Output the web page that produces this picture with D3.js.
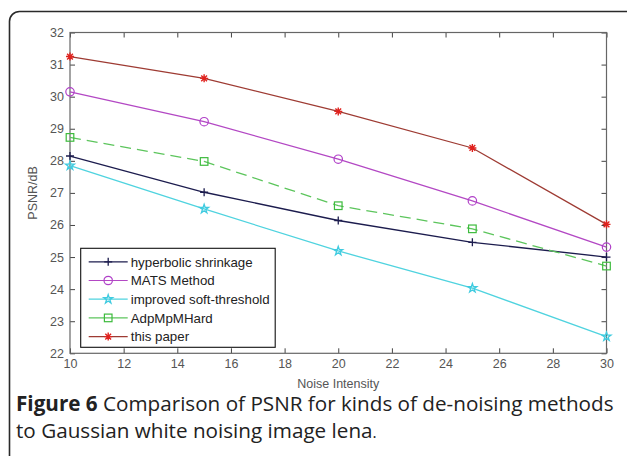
<!DOCTYPE html>
<html><head><meta charset="utf-8">
<script src="https://cdn.jsdelivr.net/npm/d3@7"></script>
<style>
html,body{margin:0;padding:0;background:#fff;}
svg{display:block;}
</style></head>
<body>
<svg id="chart" width="627" height="456"></svg>
<script>
// ---- data ----
const noise = [10, 15, 20, 25, 30];
const hyperbolic = [28.15, 27.02, 26.14, 25.46, 25.0];
const mats = [30.15, 29.22, 28.05, 26.75, 25.31];
const improvedSoft = [27.85, 26.5, 25.19, 24.03, 22.52];
const adpMpMHard = [28.73, 27.98, 26.6, 25.88, 24.72];
const thisPaper = [31.25, 30.57, 29.54, 28.4, 26.02];
const seriesNames = ["hyperbolic shrinkage", "MATS Method", "improved soft-threshold", "AdpMpMHard", "this paper"];
const xTicks = [10, 12, 14, 16, 18, 20, 22, 24, 26, 28, 30];
const yTicks = [22, 23, 24, 25, 26, 27, 28, 29, 30, 31, 32];

const series = [
  {name: seriesNames[0], values: hyperbolic, color: "#1c1c4e", mcolor: "#1c1c4e", marker: "plus", dash: null},
  {name: seriesNames[1], values: mats, color: "#b348c4", mcolor: "#b040c8", marker: "circle", dash: null},
  {name: seriesNames[2], values: improvedSoft, color: "#4fd3df", mcolor: "#3fcbe0", marker: "pentagram", dash: null},
  {name: seriesNames[3], values: adpMpMHard, color: "#5cc55c", mcolor: "#3dbb3d", marker: "square", dash: "11,6"},
  {name: seriesNames[4], values: thisPaper, color: "#9e3b33", mcolor: "#e0221e", marker: "asterisk", dash: null}
];

const svg = d3.select("#chart");
const L = 70, R = 606.5, T = 32.5, B = 353.3;
const x = d3.scaleLinear().domain([10, 30]).range([L, R]);
const y = d3.scaleLinear().domain([22, 32]).range([B, T]);

// outer frame
svg.append("rect").attr("x", 9.5).attr("y", 11.5).attr("width", 700).attr("height", 600)
  .attr("rx", 10).attr("fill", "#fff").attr("stroke", "#2a2a2a").attr("stroke-width", 1.6);

const tickFont = "Liberation Sans, Arial, sans-serif";
function styleAxis(g) {
  g.select(".domain").remove();
  g.selectAll(".tick line").attr("stroke", "#444").attr("stroke-width", 1);
  g.selectAll(".tick text").attr("fill", "#555").style("font-family", tickFont).style("font-size", "12.5px");
}

svg.append("g").attr("transform", `translate(0,${B})`)
  .call(d3.axisBottom(x).tickValues(xTicks).tickSizeInner(-5).tickSizeOuter(0).tickPadding(6))
  .call(styleAxis);
svg.append("g").attr("transform", `translate(0,${T})`)
  .call(d3.axisTop(x).tickValues(xTicks).tickSizeInner(-5).tickSizeOuter(0).tickFormat(""))
  .call(styleAxis);
svg.append("g").attr("transform", `translate(${L},0)`)
  .call(d3.axisLeft(y).tickValues(yTicks).tickSizeInner(-5).tickSizeOuter(0).tickPadding(6))
  .call(styleAxis);
svg.append("g").attr("transform", `translate(${R},0)`)
  .call(d3.axisRight(y).tickValues(yTicks).tickSizeInner(-5).tickSizeOuter(0).tickFormat(""))
  .call(styleAxis);

svg.append("rect").attr("x", L).attr("y", T).attr("width", R - L).attr("height", B - T)
  .attr("fill", "none").attr("stroke", "#666").attr("stroke-width", 1.2);

// axis labels
svg.append("text").attr("x", (L + R) / 2).attr("y", 387.5).attr("text-anchor", "middle")
  .attr("fill", "#555").style("font-family", tickFont).style("font-size", "12.5px").text("Noise Intensity");
svg.append("text").attr("transform", `translate(37,${(T + B) / 2}) rotate(-90)`).attr("text-anchor", "middle")
  .attr("fill", "#555").style("font-family", tickFont).style("font-size", "12.5px").text("PSNR/dB");

// markers
function drawMarker(g, type, cx, cy, color) {
  const s = 4;
  if (type === "plus") {
    g.append("path").attr("d", `M${cx - s},${cy}H${cx + s}M${cx},${cy - s}V${cy + s}`)
      .attr("stroke", color).attr("stroke-width", 1.3).attr("fill", "none");
  } else if (type === "circle") {
    g.append("circle").attr("cx", cx).attr("cy", cy).attr("r", 4.2)
      .attr("stroke", color).attr("stroke-width", 1.2).attr("fill", "none");
  } else if (type === "square") {
    g.append("rect").attr("x", cx - 3.8).attr("y", cy - 3.8).attr("width", 7.6).attr("height", 7.6)
      .attr("stroke", color).attr("stroke-width", 1.2).attr("fill", "none");
  } else if (type === "pentagram") {
    const sym = d3.symbol().type(d3.symbolStar).size(24);
    g.append("path").attr("d", sym()).attr("transform", `translate(${cx},${cy})`)
      .attr("stroke", color).attr("stroke-width", 1.3).attr("fill", "none");
  } else if (type === "asterisk") {
    let d = `M${cx - s},${cy}H${cx + s}M${cx},${cy - s}V${cy + s}`;
    const a = s * 0.72;
    d += `M${cx - a},${cy - a}L${cx + a},${cy + a}M${cx - a},${cy + a}L${cx + a},${cy - a}`;
    g.append("path").attr("d", d).attr("stroke", color).attr("stroke-width", 1.4).attr("fill", "none");
  }
}

const line = d3.line().x(d => x(d[0])).y(d => y(d[1]));
const plot = svg.append("g");
series.forEach(s => {
  const pts = noise.map((n, i) => [n, s.values[i]]);
  plot.append("path").datum(pts).attr("d", line).attr("fill", "none")
    .attr("stroke", s.color).attr("stroke-width", 1.3)
    .attr("stroke-dasharray", s.dash);
  pts.forEach(p => drawMarker(plot, s.marker, x(p[0]), y(p[1]), s.mcolor));
});

// legend
const lg = svg.append("g");
const lx = 80.7, ly = 248.3, lw = 194.5, lh = 99;
lg.append("rect").attr("x", lx).attr("y", ly).attr("width", lw).attr("height", lh)
  .attr("fill", "#fff").attr("stroke", "#111").attr("stroke-width", 1.1);
series.forEach((s, i) => {
  const yy = ly + 13.5 + i * 18.7;
  lg.append("line").attr("x1", lx + 8).attr("x2", lx + 47).attr("y1", yy).attr("y2", yy)
    .attr("stroke", s.color).attr("stroke-width", 1.2);
  drawMarker(lg, s.marker, lx + 27.5, yy, s.mcolor);
  lg.append("text").attr("x", lx + 50).attr("y", yy).attr("dy", "0.36em")
    .attr("fill", "#222").style("font-family", tickFont).style("font-size", "13.3px")
    .text(s.name);
});

// caption
const capFont = "Open Sans, Noto Sans, sans-serif";
const c1 = svg.append("text").attr("x", 16).attr("y", 411).attr("fill", "#222")
  .style("font-family", capFont).style("font-size", "16.5px");
c1.append("tspan").style("font-weight", "bold").text("Figure 6");
c1.append("tspan").text(" Comparison of PSNR for kinds of de-noising methods");
const c2 = svg.append("text").attr("x", 16).attr("y", 438).attr("fill", "#222")
  .style("font-family", capFont).style("font-size", "16.5px");
c2.append("tspan").text("to Gaussian white noising image lena");
c2.append("tspan").style("font-size", "12px").text(".");
// fit caption line 1 width to the reference
const w1 = c1.node().getComputedTextLength();
const target = 598;
const fs = 16.5 * target / w1;
c1.style("font-size", fs + "px");
c2.style("font-size", fs + "px");
c2.select("tspan:last-child").style("font-size", (fs * 0.75) + "px");
</script>
</body></html>
